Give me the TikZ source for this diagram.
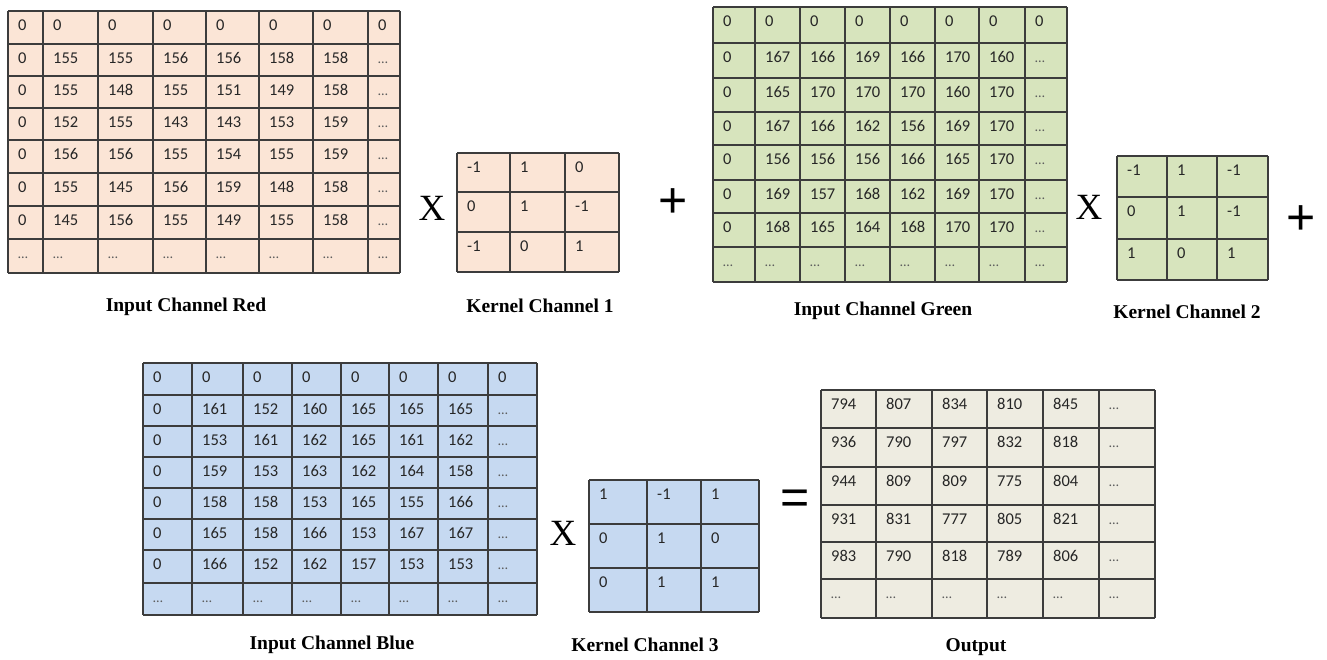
\documentclass[tikz,border=0pt]{standalone}
\usepackage{fontspec}
\newfontfamily\cellfont{Carlito}
\newfontfamily\labfont{Liberation Serif}
\newfontfamily\symfont{Liberation Sans}
\definecolor{redfill}{HTML}{FBE5D6}
\definecolor{greenfill}{HTML}{D7E4BD}
\definecolor{bluefill}{HTML}{C6D9F1}
\definecolor{outfill}{HTML}{EEECE1}
\definecolor{gridcol}{HTML}{3C3C3C}
\definecolor{celltext}{HTML}{262626}
\newcommand\dd{{\fontsize{14}{14}\selectfont\color{celltext!75}\ldots}}
\tikzset{
  gridline/.style={draw=gridcol, line width=1.4pt},
  cell/.style={anchor=base west, inner sep=0pt, text=celltext, font=\cellfont\fontsize{16.5}{16.5}\selectfont},
  caption/.style={anchor=center, inner sep=0pt, font=\labfont\bfseries\fontsize{19.5}{19.5}\selectfont},
  times/.style={anchor=center, inner sep=0pt, font=\labfont\fontsize{37}{37}\selectfont},
  opsym/.style={anchor=center, inner sep=0pt, font=\symfont\fontsize{50}{50}\selectfont},
}
% #1 name, #2 fill, #3 column boundaries, #4 row boundaries, #5 rows
\newcommand\drawgrid[5]{%
  \foreach \q [count=\i] in {#3} {\ifnum\i=1 \xdef\gxa{\q}\fi \xdef\gxb{\q}}%
  \foreach \q [count=\i] in {#4} {\ifnum\i=1 \xdef\gya{\q}\fi \xdef\gyb{\q}}%
  \fill[#2] (\gxa,\gya) rectangle (\gxb,\gyb);
  \foreach \q in {#3} {\draw[gridline] (\q,\gya) -- (\q,\gyb);}
  \foreach \q in {#4} {\draw[gridline] (\gxa,\q) -- (\gxb,\q);}
  \foreach \row [count=\r] in {#5} {
    \foreach \v [count=\c] in \row {
      \pgfmathsetmacro\cx{{#3}[\c-1]+10}
      \pgfmathsetmacro\cy{{#4}[\r-1]+19.5}
      \node[cell] (#1-\r-\c) at (\cx,\cy) {\v};
    }
  }
}
\begin{document}
\begin{tikzpicture}[x=1pt,y=-1pt]
\useasboundingbox (0,0) rectangle (1327,659);

% Red input
\drawgrid{red}{redfill}{8,43,98,153,206,259,313,368,400}{11,44,76,108,140,173,206,239,273}{
 {0,0,0,0,0,0,0,0},
 {0,155,155,156,156,158,158,\dd},
 {0,155,148,155,151,149,158,\dd},
 {0,152,155,143,143,153,159,\dd},
 {0,156,156,155,154,155,159,\dd},
 {0,155,145,156,159,148,158,\dd},
 {0,145,156,155,149,155,158,\dd},
 {\dd,\dd,\dd,\dd,\dd,\dd,\dd,\dd}}
\node[caption] (capred) at (186,307) {Input Channel Red};

% Kernel 1
\drawgrid{kone}{redfill}{457,510,565,619}{153,192,232,272}{
 {-1,1,0},{0,1,-1},{-1,0,1}}
\node[caption] (capkone) at (540,306) {Kernel Channel 1};
\node[times] (xone) at (432,208) {X};
\node[opsym] (plusone) at (673,203) {+};

% Green input
\drawgrid{green}{greenfill}{713,755,800,845,890,935,979,1025,1067}{7,43,78,112,145,180,213,247,282}{
 {0,0,0,0,0,0,0,0},
 {0,167,166,169,166,170,160,\dd},
 {0,165,170,170,170,160,170,\dd},
 {0,167,166,162,156,169,170,\dd},
 {0,156,156,156,166,165,170,\dd},
 {0,169,157,168,162,169,170,\dd},
 {0,168,165,164,168,170,170,\dd},
 {\dd,\dd,\dd,\dd,\dd,\dd,\dd,\dd}}
\node[caption] (capgreen) at (883,311) {Input Channel Green};

% Kernel 2
\drawgrid{ktwo}{greenfill}{1117,1167,1217,1268}{156,197,239,280}{
 {-1,1,-1},{0,1,-1},{1,0,1}}
\node[caption] (capktwo) at (1187,312) {Kernel Channel 2};
\node[times] (xtwo) at (1089,207) {X};
\node[opsym] (plustwo) at (1301,220) {+};

% Blue input
\drawgrid{blue}{bluefill}{143,192,243,292,341,389,438,488,537}{363,395,426,457,488,519,550,583,615}{
 {0,0,0,0,0,0,0,0},
 {0,161,152,160,165,165,165,\dd},
 {0,153,161,162,165,161,162,\dd},
 {0,159,153,163,162,164,158,\dd},
 {0,158,158,153,165,155,166,\dd},
 {0,165,158,166,153,167,167,\dd},
 {0,166,152,162,157,153,153,\dd},
 {\dd,\dd,\dd,\dd,\dd,\dd,\dd,\dd}}
\node[caption] (capblue) at (332,645) {Input Channel Blue};

% Kernel 3
\drawgrid{kthree}{bluefill}{589,647,701,759}{480,524,568,612}{
 {1,-1,1},{0,1,0},{0,1,1}}
\node[caption] (capkthree) at (645,645) {Kernel Channel 3};
\node[times] (xthree) at (563,533) {X};
\node[opsym] (eq) at (795,502) {=};

% Output
\drawgrid{out}{outfill}{821,876,932,987,1043,1099,1155}{390,428,467,505,542,579,618}{
 {794,807,834,810,845,\dd},
 {936,790,797,832,818,\dd},
 {944,809,809,775,804,\dd},
 {931,831,777,805,821,\dd},
 {983,790,818,789,806,\dd},
 {\dd,\dd,\dd,\dd,\dd,\dd}}
\node[caption] (capout) at (976,647) {Output};
\end{tikzpicture}
\end{document}
